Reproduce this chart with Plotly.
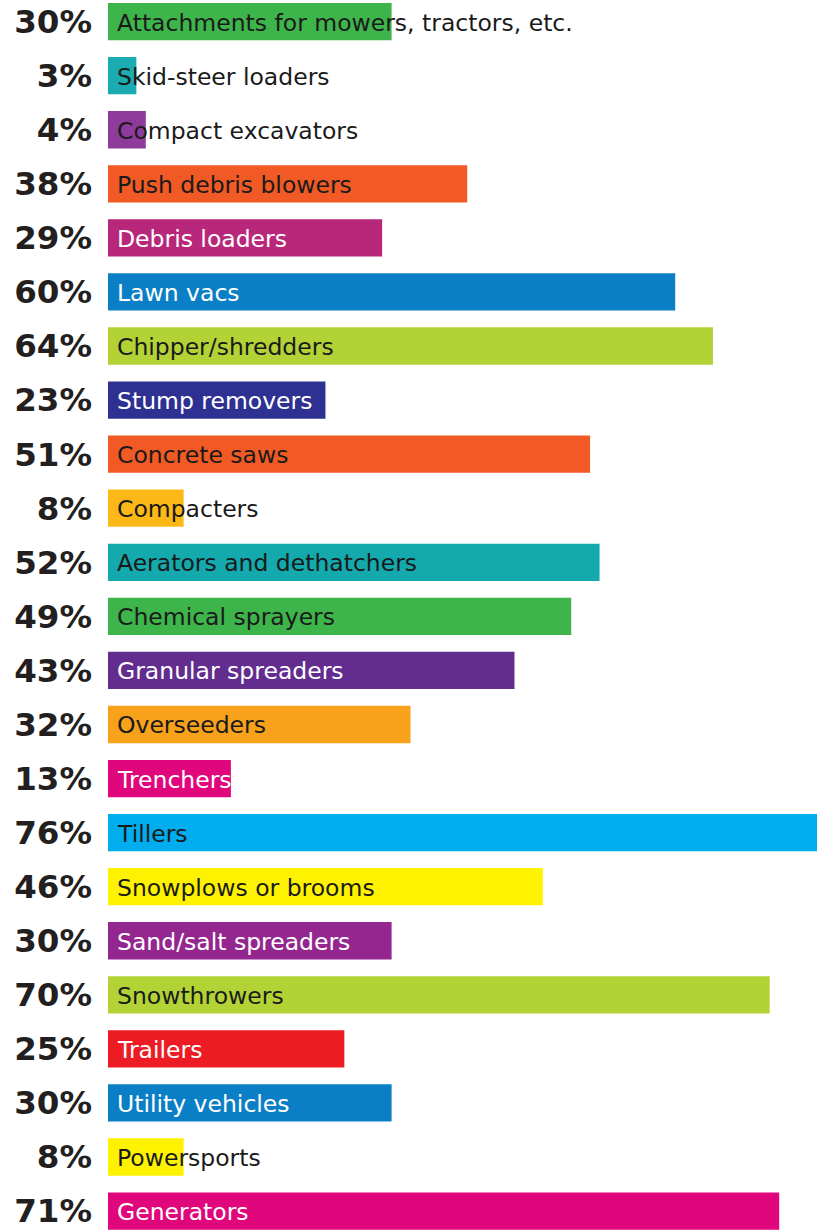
import plotly.graph_objects as go

# Share of respondents by equipment category
categories = [
    "Attachments for mowers, tractors, etc.",
    "Skid-steer loaders",
    "Compact excavators",
    "Push debris blowers",
    "Debris loaders",
    "Lawn vacs",
    "Chipper/shredders",
    "Stump removers",
    "Concrete saws",
    "Compacters",
    "Aerators and dethatchers",
    "Chemical sprayers",
    "Granular spreaders",
    "Overseeders",
    "Trenchers",
    "Tillers",
    "Snowplows or brooms",
    "Sand/salt spreaders",
    "Snowthrowers",
    "Trailers",
    "Utility vehicles",
    "Powersports",
    "Generators",
]
percents = [30, 3, 4, 38, 29, 60, 64, 23, 51, 8, 52, 49, 43, 32, 13, 76, 46, 30, 70, 25, 30, 8, 71]

bar_colors = [
    "#3db54a", "#1aacb0", "#8e3b9c", "#f15a24", "#b8287a", "#0b7fc6",
    "#b3d235", "#2e3192", "#f15a24", "#fbb817", "#13a9ad", "#3db54a",
    "#632d8f", "#f8a11b", "#e0067c", "#00adee", "#fff200", "#93278f",
    "#b3d235", "#ed1c24", "#0b7fc6", "#fff200", "#e0067c",
]
label_colors = [
    "#1a1a1a", "#1a1a1a", "#1a1a1a", "#1a1a1a", "#ffffff", "#ffffff",
    "#1a1a1a", "#ffffff", "#1a1a1a", "#1a1a1a", "#1a1a1a", "#1a1a1a",
    "#ffffff", "#1a1a1a", "#ffffff", "#1a1a1a", "#1a1a1a", "#ffffff",
    "#1a1a1a", "#ffffff", "#ffffff", "#1a1a1a", "#ffffff",
]

fig = go.Figure(
    go.Bar(
        x=percents,
        y=categories,
        orientation="h",
        marker=dict(color=bar_colors, line=dict(width=0)),
        hoverinfo="skip",
    )
)

# Category names sit at the start of each bar and may run past its end
for name, col in zip(categories, label_colors):
    fig.add_annotation(
        x=0, y=name, xref="x", yref="y",
        text=name, showarrow=False,
        xanchor="left", yanchor="middle", xshift=7, yshift=-1,
        font=dict(family="DejaVu Sans", size=23.5, color=col),
    )

n = len(categories)
fig.update_layout(
    width=817, height=1230,
    margin=dict(l=108, r=0, t=0, b=0),
    paper_bgcolor="white", plot_bgcolor="white",
    bargap=0.31,
    showlegend=False,
    xaxis=dict(range=[0, 75], visible=False, fixedrange=True),
    yaxis=dict(
        type="category",
        range=[n - 1 + 0.35, -0.4],
        tickmode="array",
        tickvals=categories,
        ticktext=[f"<b>{p}%</b>" for p in percents],
        tickfont=dict(family="DejaVu Sans", size=32.5, color="#231f20"),
        ticks="",
        ticklabelstandoff=15,
        showgrid=False, showline=False, zeroline=False,
        fixedrange=True,
    ),
)

fig.write_html("out.html")
